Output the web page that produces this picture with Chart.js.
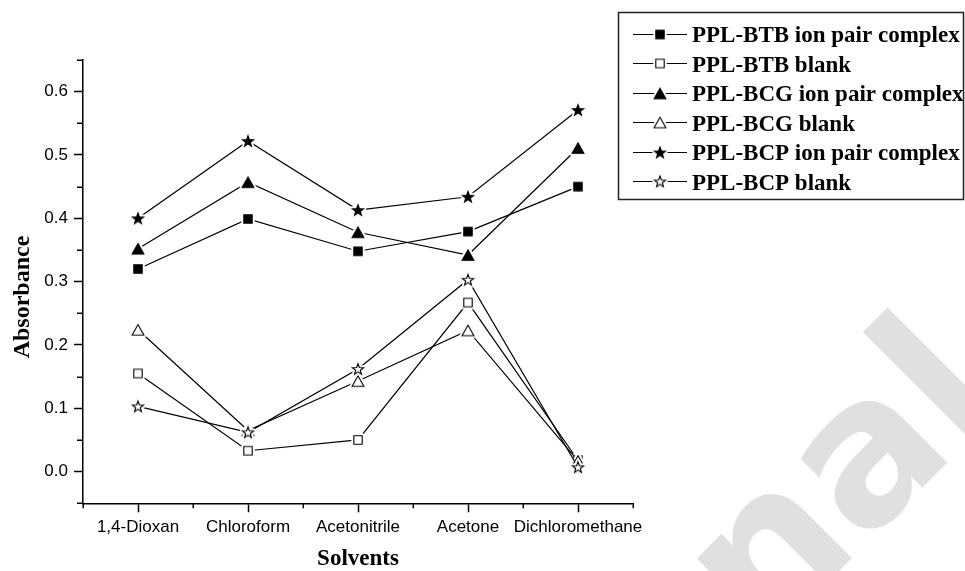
<!DOCTYPE html>
<html>
<head>
<meta charset="utf-8">
<script src="https://cdn.jsdelivr.net/npm/chart.js@4.4.1/dist/chart.umd.min.js"></script>
<style>
  html, body { margin: 0; padding: 0; background: #fff; }
  #wrap { width: 965px; height: 571px; position: relative; }
</style>
</head>
<body>
<div id="wrap"><canvas id="c" width="965" height="571"></canvas></div>
<script>
// Solvent categories and absorbance readings
const solvents = ['1,4-Dioxan', 'Chloroform', 'Acetonitrile', 'Acetone', 'Dichloromethane'];
const yTickValues = [0, 0.1, 0.2, 0.3, 0.4, 0.5, 0.6];

const btbComplex = [0.320, 0.399, 0.348, 0.379, 0.450];
const btbBlank   = [0.155, 0.033, 0.050, 0.267, 0.018];
const bcgComplex = [0.352, 0.457, 0.378, 0.342, 0.511];
const bcgBlank   = [0.224, 0.065, 0.143, 0.223, 0.017];
const bcpComplex = [0.400, 0.522, 0.413, 0.434, 0.571];
const bcpBlank   = [0.103, 0.062, 0.162, 0.303, 0.007];

const seriesNames = [
  'PPL-BTB ion pair complex',
  'PPL-BTB blank',
  'PPL-BCG ion pair complex',
  'PPL-BCG blank',
  'PPL-BCP ion pair complex',
  'PPL-BCP blank'
];

const yTitle = 'Absorbance';
const xTitle = 'Solvents';
const watermarkText = 'nal';

const SERIF = '"Liberation Serif", "Times New Roman", Times, serif';
const SANS = '"Liberation Sans", Arial, Helvetica, sans-serif';

// Marker sprites: square, triangle, star; filled or hollow, with a white halo
// so the connecting lines stop just short of each symbol.
function makeMarker(shape, filled) {
  const S = 26, c = S / 2;
  const cv = document.createElement('canvas');
  cv.width = S; cv.height = S;
  const g = cv.getContext('2d');
  g.beginPath();
  if (shape === 'square') {
    const h = 4.2;
    g.rect(c - h, c - h, 2 * h, 2 * h);
  } else if (shape === 'triangle') {
    const hw = 5.9, hh = 5.2;
    g.moveTo(c, c - hh);
    g.lineTo(c + hw, c + hh);
    g.lineTo(c - hw, c + hh);
    g.closePath();
  } else {
    const R = 5.9, r = 2.4;
    for (let k = 0; k < 10; k++) {
      const rad = (k % 2 === 0) ? R : r;
      const a = -Math.PI / 2 + k * Math.PI / 5;
      const px = c + rad * Math.cos(a), py = c + 0.5 + rad * Math.sin(a);
      if (k === 0) g.moveTo(px, py); else g.lineTo(px, py);
    }
    g.closePath();
  }
  g.lineJoin = 'round';
  g.strokeStyle = '#fff';
  g.lineWidth = 5;
  g.stroke();
  g.fillStyle = '#fff';
  g.fill();
  g.lineJoin = 'miter';
  g.fillStyle = filled ? '#000' : '#fff';
  g.fill();
  g.strokeStyle = '#000';
  g.lineWidth = 1.1;
  g.stroke();
  return cv;
}

const seriesValues = [btbComplex, btbBlank, bcgComplex, bcgBlank, bcpComplex, bcpBlank];
const seriesMarkers = [
  makeMarker('square', true), makeMarker('square', false),
  makeMarker('triangle', true), makeMarker('triangle', false),
  makeMarker('star', true), makeMarker('star', false)
];

const datasets = seriesValues.map((vals, i) => ({
  label: seriesNames[i],
  data: vals.map((v, k) => ({ x: k, y: v })),
  borderColor: '#000',
  backgroundColor: '#000',
  borderWidth: 1.2,
  tension: 0,
  fill: false,
  order: -i,            // later series are painted over earlier ones
  pointStyle: seriesMarkers[i],
  pointRadius: 6,
  pointHoverRadius: 6
}));

// White page plus light grey diagonal lettering behind the plot
const watermark = {
  id: 'watermark',
  beforeDraw(chart) {
    const ctx = chart.ctx;
    ctx.save();
    ctx.fillStyle = '#ffffff';
    ctx.fillRect(0, 0, chart.width, chart.height);
    ctx.fillStyle = '#e0e0e0';
    ctx.font = 'bold 200px "DejaVu Sans", sans-serif';
    ctx.translate(863, 547);
    ctx.rotate(-Math.PI / 4);
    ctx.textBaseline = 'alphabetic';
    ctx.textAlign = 'left';
    const lead = ctx.measureText(watermarkText.slice(0, 1)).width;
    ctx.fillText(watermarkText, -lead, 0);
    ctx.restore();
  }
};

// Short minor ticks halfway between the labelled ticks, and the y-axis title
const axisExtras = {
  id: 'axisExtras',
  afterDraw(chart) {
    const { ctx, scales: { x, y } } = chart;
    ctx.save();
    ctx.strokeStyle = '#000';
    ctx.lineWidth = 1.5;
    ctx.beginPath();
    for (let k = 0; k <= solvents.length; k++) {
      const px = Math.round(x.getPixelForValue(k - 0.5)) + 0.25;
      ctx.moveTo(px, x.top);
      ctx.lineTo(px, x.top + 5);
    }
    for (let k = 0; k <= yTickValues.length; k++) {
      const py = Math.round(y.getPixelForValue(-0.05 + 0.1 * k)) + 0.25;
      ctx.moveTo(y.right, py);
      ctx.lineTo(y.right - 6, py);
    }
    ctx.stroke();

    ctx.fillStyle = '#000';
    ctx.font = 'bold 24px ' + SERIF;
    ctx.textAlign = 'center';
    ctx.textBaseline = 'middle';
    ctx.translate(23, 297);
    ctx.rotate(-Math.PI / 2);
    ctx.fillText(yTitle, 0, 0);
    ctx.restore();
  }
};

// Boxed legend: line-marker-line sample followed by the series name
const boxedLegend = {
  id: 'boxedLegend',
  afterDraw(chart) {
    const ctx = chart.ctx;
    const box = { x: 618.5, y: 12.5, w: 345, h: 187 };
    ctx.save();
    ctx.strokeStyle = '#222';
    ctx.lineWidth = 1.5;
    ctx.strokeRect(box.x, box.y, box.w, box.h);
    ctx.font = 'bold 23px ' + SERIF;
    ctx.fillStyle = '#000';
    ctx.textAlign = 'left';
    ctx.textBaseline = 'alphabetic';
    chart.data.datasets.forEach((ds, i) => {
      const base = 42.3 + 29.5 * i;
      const my = Math.round(base - 8.8);
      ctx.strokeStyle = '#000';
      ctx.lineWidth = 1.2;
      ctx.beginPath();
      ctx.moveTo(633, my + 0.5);
      ctx.lineTo(687, my + 0.5);
      ctx.stroke();
      const img = ds.pointStyle;
      ctx.drawImage(img, 660 - img.width / 2, my + 0.5 - img.height / 2);
      ctx.fillText(ds.label, 692, base);
    });
    ctx.restore();
  }
};

new Chart(document.getElementById('c'), {
  type: 'line',
  data: { datasets },
  options: {
    responsive: false,
    animation: false,
    devicePixelRatio: 1,
    events: [],
    layout: { padding: { left: 0, top: 60, right: 332, bottom: 0 } },
    plugins: {
      legend: { display: false },
      tooltip: { enabled: false }
    },
    scales: {
      x: {
        type: 'linear',
        min: -0.5,
        max: 4.5,
        afterBuildTicks: s => { s.ticks = solvents.map((_, i) => ({ value: i })); },
        afterFit: s => { s.height = 67.7; },
        ticks: {
          autoSkip: false,
          maxRotation: 0,
          minRotation: 0,
          padding: 5,
          color: '#000',
          font: { family: SANS, size: 17 },
          callback: v => solvents[v]
        },
        grid: { drawOnChartArea: false, tickLength: 9, tickWidth: 1.5, tickColor: '#000', color: '#000' },
        border: { display: true, color: '#000', width: 1.5 },
        title: {
          display: true,
          text: xTitle,
          color: '#000',
          font: { family: SERIF, size: 23, weight: 'bold', lineHeight: 1 },
          padding: { top: 0, bottom: 0.5 }
        }
      },
      y: {
        type: 'linear',
        min: -0.05,
        max: 0.65,
        afterBuildTicks: s => { s.ticks = yTickValues.map(v => ({ value: v })); },
        afterFit: s => { s.width = 83; },
        ticks: {
          padding: 6,
          color: '#000',
          font: { family: SANS, size: 17 },
          callback: v => Number(v).toFixed(1)
        },
        grid: { drawOnChartArea: false, tickLength: 9, tickWidth: 1.5, tickColor: '#000', color: '#000' },
        border: { display: true, color: '#000', width: 1.5 },
        title: { display: false }
      }
    }
  },
  plugins: [watermark, axisExtras, boxedLegend]
});
</script>
</body>
</html>
